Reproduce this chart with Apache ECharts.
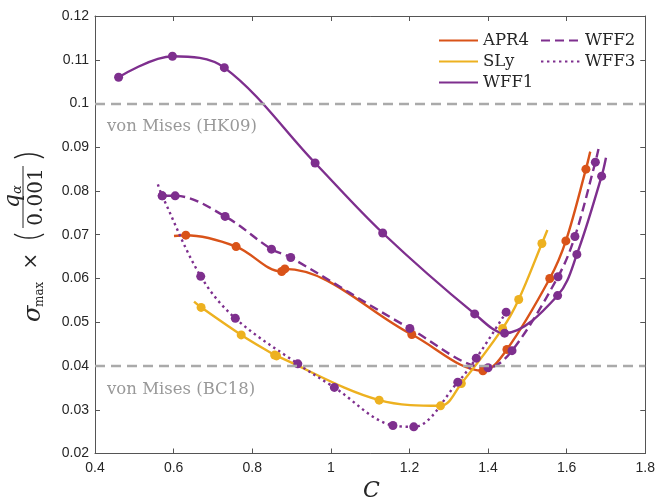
<!DOCTYPE html>
<html>
<head>
<meta charset="utf-8">
<script src="https://cdn.jsdelivr.net/npm/echarts@6/dist/echarts.min.js"></script>
<style>
  html, body { margin: 0; padding: 0; background: #fff; }
  #main { width: 658px; height: 502px; }
</style>
</head>
<body>
<div id="main"></div>
<script>
// values (C, sigma_max * q_alpha / 0.001)
var apr4X = [0.601, 0.631, 0.759, 0.875, 0.883, 1.206, 1.387, 1.448, 1.557, 1.598, 1.649, 1.660];
var apr4Y = [0.0697, 0.0699, 0.0673, 0.0616, 0.0622, 0.0472, 0.0389, 0.0438, 0.0600, 0.0686, 0.0850, 0.0890];
var apr4Bare = [0, 11];

var slyX = [0.652, 0.670, 0.772, 0.857, 0.862, 1.123, 1.279, 1.332, 1.437, 1.478, 1.537, 1.551];
var slyY = [0.0547, 0.0534, 0.0471, 0.0425, 0.0423, 0.0322, 0.0309, 0.0360, 0.0486, 0.0552, 0.0680, 0.0711];
var slyBare = [0, 11];

var wff1X = [0.460, 0.597, 0.729, 0.960, 1.132, 1.366, 1.442, 1.577, 1.626, 1.689, 1.700];
var wff1Y = [0.1060, 0.1108, 0.1082, 0.0864, 0.0704, 0.0519, 0.0475, 0.0561, 0.0655, 0.0834, 0.0876];
var wff1Bare = [10];

var wff2X = [0.571, 0.604, 0.731, 0.849, 0.898, 1.201, 1.400, 1.461, 1.578, 1.621, 1.673, 1.681];
var wff2Y = [0.0789, 0.0789, 0.0742, 0.0667, 0.0648, 0.0486, 0.0396, 0.0435, 0.0604, 0.0696, 0.0866, 0.0896];
var wff2Bare = [11];

var wff3X = [0.560, 0.571, 0.669, 0.757, 0.916, 1.009, 1.158, 1.211, 1.323, 1.370, 1.446];
var wff3Y = [0.0815, 0.0789, 0.0605, 0.0509, 0.0405, 0.0351, 0.0264, 0.0261, 0.0363, 0.0418, 0.0523];
var wff3Bare = [0];

var vonMisesLevels = [0.1, 0.04];
var vonMisesNames = ['von Mises (HK09)', 'von Mises (BC18)'];

var chart = echarts.init(document.getElementById('main'));

var orange = '#D95319', yellow = '#EDB120', purple = '#7E2F8E';
var serif = '"DejaVu Serif", "Liberation Serif", serif';
var sans = '"Liberation Sans", Arial, sans-serif';
var ink = '#262626';

function pts(xs, ys, bare) {
  return xs.map(function (x, i) {
    var p = { value: [x, ys[i]] };
    if (bare.indexOf(i) >= 0) p.symbol = 'none';
    return p;
  });
}

function curve(name, xs, ys, bare, color, dash) {
  return {
    name: name,
    type: 'line',
    data: pts(xs, ys, bare),
    smooth: 0.35,
    symbol: 'circle',
    symbolSize: 9,
    itemStyle: { color: color },
    lineStyle: { color: color, width: 2.4, type: dash, cap: 'butt' },
    z: 3
  };
}

var tickLabel = { color: ink, fontFamily: sans, fontSize: 14 };
var axisLine = { show: true, lineStyle: { color: '#555', width: 1 } };
var tick = { show: true, inside: true, length: 5, lineStyle: { color: '#555' } };
var legendText = { fontFamily: serif, fontSize: 16.5, color: ink };

// big thin parentheses for the y label, drawn as arcs
var parenR = 30, parenA = 0.52;

var option = {
  animation: false,
  backgroundColor: '#fff',
  grid: { left: 95, right: 11, top: 16, bottom: 48.5, containLabel: false },
  xAxis: [
    { type: 'value', min: 0.4, max: 1.8, interval: 0.2, position: 'bottom',
      axisLine: axisLine, axisTick: tick, splitLine: { show: false },
      axisLabel: Object.assign({ margin: 8 }, tickLabel) },
    { type: 'value', min: 0.4, max: 1.8, interval: 0.2, position: 'top',
      axisLine: axisLine, axisTick: tick, splitLine: { show: false },
      axisLabel: { show: false } }
  ],
  yAxis: [
    { type: 'value', min: 0.02, max: 0.12, interval: 0.01, position: 'left',
      axisLine: axisLine, axisTick: tick, splitLine: { show: false },
      axisLabel: Object.assign({ margin: 6 }, tickLabel) },
    { type: 'value', min: 0.02, max: 0.12, interval: 0.01, position: 'right',
      axisLine: axisLine, axisTick: tick, splitLine: { show: false },
      axisLabel: { show: false } }
  ],
  legend: [
    { data: ['APR4', 'SLy', 'WFF1'], orient: 'vertical', left: 438, top: 32, padding: 0,
      itemWidth: 39, itemHeight: 14, itemGap: 4,
      itemStyle: { opacity: 0 }, textStyle: legendText },
    { data: ['WFF2', 'WFF3'], orient: 'vertical', left: 540, top: 32, padding: 0,
      itemWidth: 39, itemHeight: 14, itemGap: 4,
      itemStyle: { opacity: 0 }, textStyle: legendText }
  ],
  series: [
    {
      type: 'line', data: [], z: 1,
      markLine: {
        silent: true, symbol: 'none',
        lineStyle: { color: '#aaaaaa', width: 2.4, type: [10, 6] },
        label: {
          position: 'insideStartBottom', distance: [12, 15],
          fontFamily: serif, fontSize: 16.5, color: '#999999',
          formatter: function (p) { return p.name; }
        },
        data: vonMisesLevels.map(function (v, i) { return { yAxis: v, name: vonMisesNames[i] }; })
      }
    },
    curve('APR4', apr4X, apr4Y, apr4Bare, orange, 'solid'),
    curve('SLy', slyX, slyY, slyBare, yellow, 'solid'),
    curve('WFF1', wff1X, wff1Y, wff1Bare, purple, 'solid'),
    curve('WFF2', wff2X, wff2Y, wff2Bare, purple, [9, 5]),
    curve('WFF3', wff3X, wff3Y, wff3Bare, purple, [2.4, 3.6])
  ],
  graphic: [
    { type: 'text', left: 363, top: 480,
      style: { text: 'C', font: 'italic 22px ' + serif, fill: ink } },
    {
      type: 'group', x: 0, y: 322, rotation: Math.PI / 2,
      children: [
        { type: 'text', x: 0, y: 34, style: { text: 'σ', font: 'italic 24px ' + serif, fill: ink, align: 'left', verticalAlign: 'middle' } },
        { type: 'text', x: 15, y: 40, style: { text: 'max', font: '12px ' + serif, fill: ink, align: 'left', verticalAlign: 'middle' } },
        { type: 'text', x: 61, y: 32, style: { text: '×', font: '20px ' + serif, fill: ink, align: 'center', verticalAlign: 'middle' } },
        { type: 'arc', shape: { cx: 84 + parenR, cy: 29, r: parenR, startAngle: Math.PI - parenA, endAngle: Math.PI + parenA, clockwise: true },
          style: { stroke: ink, lineWidth: 1.4, fill: null } },
        { type: 'line', shape: { x1: 94, y1: 23, x2: 156, y2: 23 }, style: { stroke: ink, lineWidth: 1 } },
        { type: 'text', x: 114, y: 13, style: { text: 'q', font: 'italic 22px ' + serif, fill: ink, align: 'left', verticalAlign: 'middle' } },
        { type: 'text', x: 128, y: 18, style: { text: 'α', font: 'italic 13px ' + serif, fill: ink, align: 'left', verticalAlign: 'middle' } },
        { type: 'text', x: 125, y: 37, style: { text: '0.001', font: '20px ' + serif, fill: ink, align: 'center', verticalAlign: 'middle' } },
        { type: 'arc', shape: { cx: 168 - parenR, cy: 29, r: parenR, startAngle: -parenA, endAngle: parenA, clockwise: true },
          style: { stroke: ink, lineWidth: 1.4, fill: null } }
      ]
    }
  ]
};

chart.setOption(option);
</script>
</body>
</html>
